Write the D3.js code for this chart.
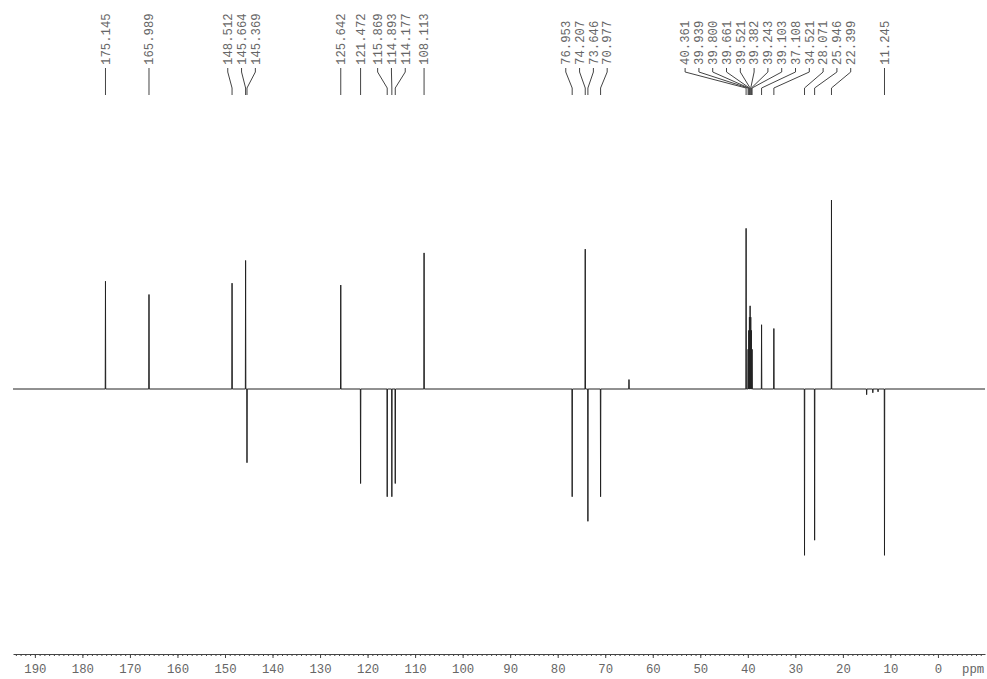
<!DOCTYPE html>
<html>
<head>
<meta charset="utf-8">
<script src="https://cdn.jsdelivr.net/npm/d3@7"></script>
<style>
  body { margin: 0; background: #fff; }
  svg { display: block; }
  .lbl, .tick text, .unit { font-family: "Liberation Mono", "DejaVu Sans Mono", monospace; fill: #666; }
</style>
</head>
<body>
<div id="spectrum"></div>
<script>
// peak positions (ppm) and relative intensities (tallest = 100, negative = pointing down)
var peakPpm = [175.145, 165.989, 148.512, 145.664, 145.369, 125.642, 121.472, 115.869, 114.893, 114.177,
  108.113, 76.953, 74.207, 73.646, 70.977, 40.361, 39.939, 39.800, 39.661, 39.521, 39.382, 39.243,
  39.103, 37.108, 34.521, 28.071, 25.946, 22.399, 11.245];
var peakHeight = [57, 50, 56, 68, -39, 55, -50, -57, -57, -50,
  72, -57, 74, -70, -57, 85, 21, 31, 38, 44, 38, 31,
  21, 34, 32, -88, -80, 100, -88];
var peakText = ["175.145", "165.989", "148.512", "145.664", "145.369", "125.642", "121.472", "115.869", "114.893", "114.177",
  "108.113", "76.953", "74.207", "73.646", "70.977", "40.361", "39.939", "39.800", "39.661", "39.521", "39.382", "39.243",
  "39.103", "37.108", "34.521", "28.071", "25.946", "22.399", "11.245"];

// small unlabelled signals
var minorPpm = [65.0, 15.0, 13.7, 12.6];
var minorHeight = [5, -3, -2, -1.5];

var majorTicks = d3.range(0, 191, 10);
var minorTicks = d3.range(-9, 195, 1);

var svgWidth = 987;
var svgHeight = 679;

var svg = d3.select("#spectrum")
  .append("svg")
  .attr("width", svgWidth)
  .attr("height", svgHeight);

var xScale = d3.scaleLinear()
  .domain([194.6, -9.9])
  .range([13, 985]);

var yScale = d3.scaleLinear()
  .domain([-100, 100])
  .range([578, 200]);

// build the trace: baseline with a narrow spike at each signal
var allPeaks = peakPpm.map((p, i) => [p, peakHeight[i]])
  .concat(minorPpm.map((p, i) => [p, minorHeight[i]]))
  .sort((a, b) => b[0] - a[0]);

var trace = [[194.6, 0]];
allPeaks.forEach(function(pk) {
  trace.push([pk[0] + 0.05, 0]);
  trace.push([pk[0], pk[1]]);
  trace.push([pk[0] - 0.05, 0]);
});
trace.push([-9.9, 0]);

var line = d3.line()
  .x(d => xScale(d[0]))
  .y(d => yScale(d[1]));

svg.append("path")
  .datum(trace)
  .attr("fill", "none")
  .attr("stroke", "#222")
  .attr("stroke-width", 1)
  .attr("d", line);

// label layout: merge overlapping labels into groups centred on their peaks
var gap = 13.8;
var groups = peakPpm.map((p, i) => ({ idx: [i], mean: xScale(p) }))
  .sort((a, b) => a.mean - b.mean);
function groupStart(g) { return g.mean - (g.idx.length - 1) * gap / 2; }
function groupEnd(g) { return g.mean + (g.idx.length - 1) * gap / 2; }
var merged = true;
while (merged) {
  merged = false;
  for (var i = 0; i < groups.length - 1; i++) {
    if (groupEnd(groups[i]) + gap > groupStart(groups[i + 1])) {
      var idx = groups[i].idx.concat(groups[i + 1].idx);
      idx.sort((a, b) => xScale(peakPpm[a]) - xScale(peakPpm[b]));
      groups.splice(i, 2, { idx: idx, mean: d3.mean(idx, k => xScale(peakPpm[k])) });
      merged = true;
      break;
    }
  }
}
var labelX = [];
groups.forEach(function(g) {
  var s = groupStart(g);
  g.idx.forEach((k, j) => { labelX[k] = s + j * gap; });
});

var labelGroup = svg.append("g");

labelGroup.selectAll("path")
  .data(peakPpm)
  .enter()
  .append("path")
  .attr("fill", "none")
  .attr("stroke", "#444")
  .attr("stroke-width", 1)
  .attr("d", (d, i) => {
    var lx = labelX[i], px = xScale(d);
    return `M${lx},68 L${lx},72 L${px},88 L${px},95`;
  });

labelGroup.selectAll("text")
  .data(peakText)
  .enter()
  .append("text")
  .attr("class", "lbl")
  .attr("transform", (d, i) => `translate(${labelX[i]}, 65) rotate(-90)`)
  .attr("dy", "0.35em")
  .style("font-size", "12.3px")
  .text(d => d);

// ppm axis
var axisY = 654;

svg.append("g")
  .attr("transform", `translate(0, ${axisY})`)
  .call(d3.axisBottom(xScale).tickValues(minorTicks).tickSize(2).tickSizeOuter(0).tickFormat(""))
  .call(g => g.selectAll("line").attr("stroke", "#444"))
  .call(g => g.select(".domain").attr("stroke", "#444"));

svg.append("g")
  .attr("transform", `translate(0, ${axisY})`)
  .call(d3.axisBottom(xScale).tickValues(majorTicks).tickSize(4).tickSizeOuter(0).tickPadding(6.5).tickFormat(d3.format("d")))
  .call(g => g.select(".domain").remove())
  .call(g => g.selectAll("line").attr("stroke", "#444"))
  .call(g => g.selectAll("text").style("font-size", "12.3px"));

svg.append("text")
  .attr("class", "unit")
  .attr("x", 962)
  .attr("y", 673)
  .style("font-size", "12.3px")
  .text("ppm");
</script>
</body>
</html>
